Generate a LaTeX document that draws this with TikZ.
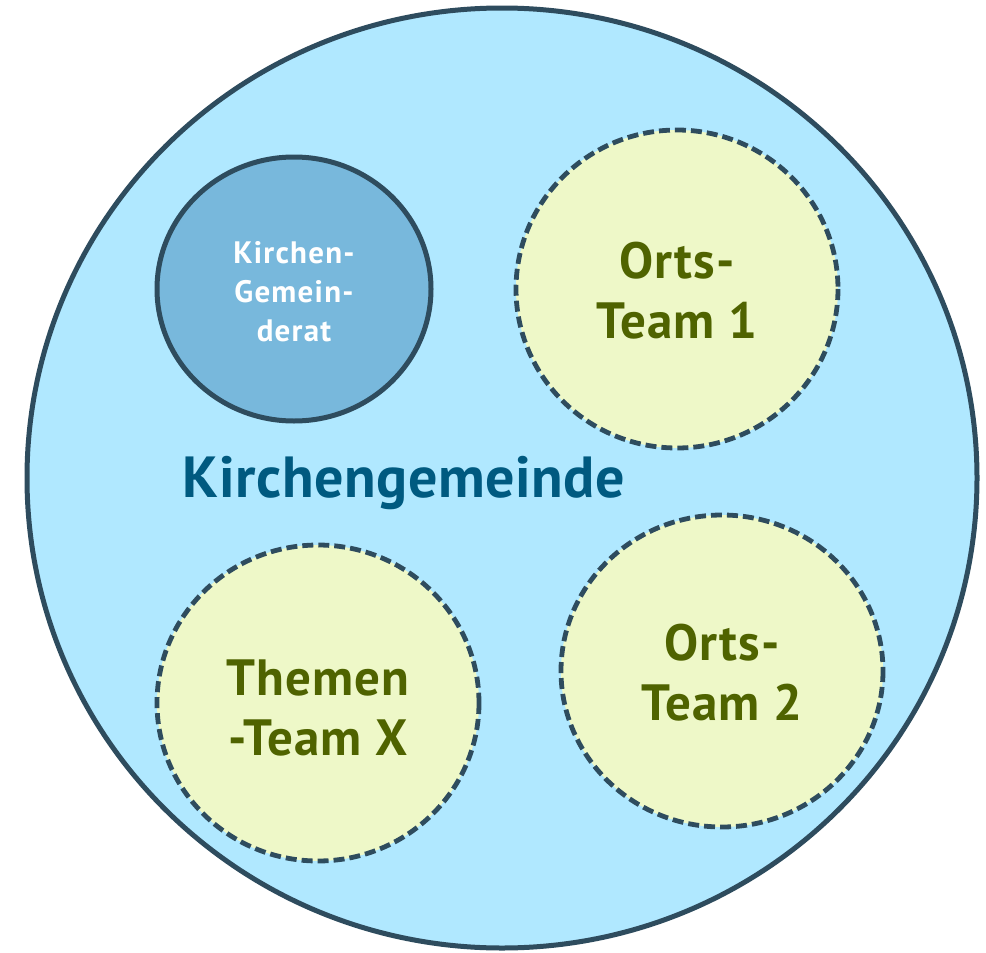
\documentclass[tikz,border=0pt]{standalone}
\usepackage{fontspec}
\setmainfont{PT Sans}
\definecolor{outerfill}{HTML}{B0E8FF}
\definecolor{stroke}{HTML}{2E4C5E}
\definecolor{kgrfill}{HTML}{78B8DC}
\definecolor{teamfill}{HTML}{EEF8C8}
\definecolor{teamtext}{HTML}{4F6300}
\definecolor{kgtext}{HTML}{005A80}
\tikzset{
  outerbox/.style={draw=stroke, line width=5pt, fill=outerfill},
  kgrbox/.style={draw=stroke, line width=5pt, fill=kgrfill},
  teambox/.style={draw=stroke, line width=4.8pt, fill=teamfill, dash pattern=on 11pt off 5pt},
  teamlabel/.style={text=teamtext, font=\bfseries\fontsize{51}{60}\selectfont\addfontfeatures{LetterSpace=2}, align=center},
  kgrlabel/.style={text=white, font=\bfseries\fontsize{31}{39}\selectfont\addfontfeatures{LetterSpace=4}, align=center},
}
\begin{document}
\begin{tikzpicture}[x=1pt,y=-1pt]
\useasboundingbox (0,0) rectangle (986,953);
\fill[white] (0,0) rectangle (986,953);
\draw[outerbox] (502,478) ellipse [x radius=475, y radius=470];
\coordinate (outer) at (502,478);
\draw[kgrbox] (294,289) ellipse [x radius=137, y radius=132];
\node[kgrlabel] (kgr) at (294,292) {Kirchen-\\Gemein-\\derat};
\draw[teambox] (677,289) ellipse [x radius=161, y radius=159];
\node[teamlabel] (ot1) at (677,291) {Orts-\\Team 1};
\draw[teambox] (318,703) ellipse [x radius=161, y radius=158];
\node[teamlabel] (ttx) at (318,708) {Themen\\-Team X};
\draw[teambox] (722,671) ellipse [x radius=161, y radius=156];
\node[teamlabel] (ot2) at (722,673) {Orts-\\Team 2};
\node[text=kgtext, font=\bfseries\fontsize{58}{60}\selectfont\addfontfeatures{LetterSpace=1}] (kg) at (404,483) {Kirchengemeinde};
\end{tikzpicture}
\end{document}
